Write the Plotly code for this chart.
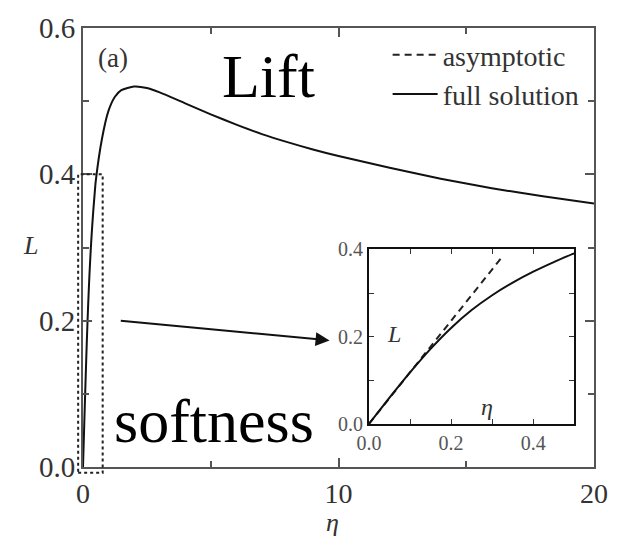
import plotly.graph_objects as go

# Lift L versus softness eta: full numerical solution
eta_full = [0, 0.05, 0.1, 0.15, 0.2, 0.25, 0.3, 0.35, 0.4, 0.45, 0.5, 0.75, 1.0, 1.25,
            1.5, 2.0, 2.5, 3, 4, 5, 6, 7, 8, 9, 10, 12, 14, 16, 18, 20]
lift_full = [0, 0.060, 0.118, 0.172, 0.220, 0.261, 0.295, 0.324, 0.349, 0.371, 0.391,
             0.450, 0.487, 0.506, 0.515, 0.520, 0.518, 0.512, 0.497, 0.482, 0.468,
             0.455, 0.444, 0.434, 0.425, 0.409, 0.394, 0.381, 0.370, 0.360]

# Small-eta asymptotic branch (inset)
eta_asym = [0, 0.1, 0.2, 0.3, 0.325]
lift_asym = [0, 0.118, 0.236, 0.354, 0.384]

main_x_ticks = [0, 10, 20]
main_y_ticks = [0.0, 0.2, 0.4, 0.6]
inset_x_ticks = [0.0, 0.2, 0.4]
inset_y_ticks = [0.0, 0.2, 0.4]

# Zoom window shown in the inset
zoom_box = dict(x0=-0.19, x1=0.77, y0=-0.008, y1=0.4)

SERIF = "Liberation Serif, Times New Roman, serif"
W, H = 620, 537
ML, MR, MT, MB = 83, 17, 19, 70
XR = [0, 20]
YR = [0, 0.6]


def px(x):
    return (x - ML) / (W - ML - MR)


def py(y):
    return (H - MB - y) / (H - MT - MB)


def dx(v):
    return (v - XR[0]) / (XR[1] - XR[0])


def dy(v):
    return (v - YR[0]) / (YR[1] - YR[0])


fig = go.Figure()

fig.add_trace(go.Scatter(
    x=eta_asym, y=lift_asym, xaxis="x2", yaxis="y2", mode="lines",
    name="asymptotic", line=dict(color="#222", width=2, dash="7px,5px"),
))
fig.add_trace(go.Scatter(
    x=eta_full, y=lift_full, mode="lines", name="full solution",
    line=dict(color="#111", width=2, shape="spline", smoothing=0.6),
))
fig.add_trace(go.Scatter(
    x=eta_full, y=lift_full, xaxis="x2", yaxis="y2", mode="lines",
    showlegend=False, line=dict(color="#111", width=2, shape="spline", smoothing=0.6),
))

axis_common = dict(showgrid=False, zeroline=False, showline=True, mirror="allticks",
                   ticks="inside")

fig.update_layout(
    width=W, height=H,
    margin=dict(l=ML, r=MR, t=MT, b=MB),
    paper_bgcolor="white", plot_bgcolor="white",
    font=dict(family=SERIF, color="#333"),
    xaxis=dict(range=XR, tickvals=main_x_ticks, ticklen=9, tickwidth=1.5,
               linecolor="#555", linewidth=2, tickcolor="#555",
               tickfont=dict(family=SERIF, size=28, color="#333"),
               minor=dict(dtick=5, ticklen=6, tickcolor="#555", ticks="inside"),
               **axis_common),
    yaxis=dict(range=YR, tickvals=main_y_ticks, tickformat=".1f", ticklen=9,
               tickwidth=1.5, linecolor="#555", linewidth=2, tickcolor="#555",
               tickfont=dict(family=SERIF, size=29, color="#333"),
               minor=dict(dtick=0.1, ticklen=6, tickcolor="#555", ticks="inside"),
               **axis_common),
    xaxis2=dict(domain=[px(374), px(583)], anchor="y2", range=[0, 0.5],
                tickvals=inset_x_ticks, tickformat=".1f", ticklen=5,
                linecolor="#111", linewidth=2, tickcolor="#333",
                tickfont=dict(family=SERIF, size=20, color="#555"),
                minor=dict(dtick=0.1, ticklen=5, tickcolor="#333", ticks="inside"),
                **axis_common),
    yaxis2=dict(domain=[py(423), py(245)], anchor="x2", range=[0, 0.4],
                tickvals=inset_y_ticks, tickformat=".1f", ticklen=5,
                linecolor="#111", linewidth=2, tickcolor="#333",
                tickfont=dict(family=SERIF, size=20, color="#555"),
                minor=dict(dtick=0.1, ticklen=5, tickcolor="#333", ticks="inside"),
                **axis_common),
    legend=dict(x=px(393), y=py(21), xanchor="left", yanchor="top",
                bgcolor="rgba(0,0,0,0)", font=dict(size=28, color="#333", family=SERIF),
                tracegroupgap=0, itemwidth=45),
    showlegend=True,
)

# Dotted window marking the zoomed region
fig.add_shape(type="rect", xref="paper", yref="paper",
              x0=dx(zoom_box["x0"]), x1=dx(zoom_box["x1"]),
              y0=dy(zoom_box["y0"]), y1=dy(zoom_box["y1"]),
              line=dict(color="#222", width=2, dash="dot"), layer="above")

# Arrow pointing to the inset
fig.add_annotation(x=9.65, y=0.173, ax=1.42, ay=0.2, xref="x", yref="y",
                   axref="x", ayref="y", text="", showarrow=True,
                   arrowhead=2, arrowsize=1.4, arrowwidth=2, arrowcolor="#111")

texts = [
    dict(text="(a)", x=px(114), y=py(50), size=27, color="#333"),
    dict(text="Lift", x=px(272), y=py(68), size=62, color="#000"),
    dict(text="softness", x=px(216), y=py(420), size=62, color="#000"),
    dict(text="<i>η</i>", x=px(337), y=py(524), size=26, color="#333"),
    dict(text="<i>L</i>", x=px(30), y=py(241), size=26, color="#333"),
    dict(text="<i>L</i>", x=px(399), y=py(331), size=24, color="#333"),
    dict(text="<i>η</i>", x=px(494), y=py(406), size=24, color="#333"),
]
for t in texts:
    fig.add_annotation(text=t["text"], x=t["x"], y=t["y"], xref="paper", yref="paper",
                       showarrow=False, xanchor="center", yanchor="middle",
                       font=dict(family=SERIF, size=t["size"], color=t["color"]))

fig.write_html("out.html")
